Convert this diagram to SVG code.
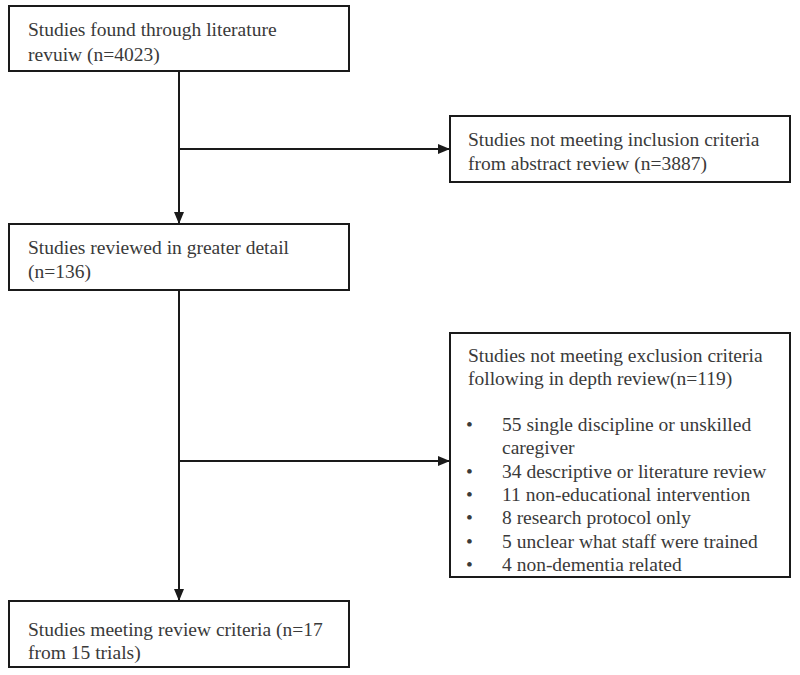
<svg xmlns="http://www.w3.org/2000/svg" width="800" height="675" viewBox="0 0 800 675">
<style>
.box{fill:#fff;stroke:#1a1a1a;stroke-width:2}
.t{font-family:"Liberation Serif","Times New Roman",serif;font-size:19.5px;fill:#3a3a3a}
.c{stroke:#1a1a1a;stroke-width:2;fill:none}
</style>
<defs>
<marker id="ah" markerWidth="12" markerHeight="10" refX="11" refY="5" orient="auto" markerUnits="userSpaceOnUse">
<path d="M0,0 L12,5 L0,10 Z" fill="#1a1a1a"/>
</marker>
</defs>
<rect width="800" height="675" fill="#fff"/>
<g id="connectors">
<line class="c" x1="179" y1="71" x2="179" y2="223" marker-end="url(#ah)"/>
<line class="c" x1="179" y1="149" x2="449" y2="149" marker-end="url(#ah)"/>
<line class="c" x1="179" y1="290" x2="179" y2="600" marker-end="url(#ah)"/>
<line class="c" x1="179" y1="461" x2="449" y2="461" marker-end="url(#ah)"/>
</g>
<g id="n1">
<rect class="box" x="9" y="6" width="340" height="65"/>
<text class="t" x="28" y="36">Studies found through literature</text>
<text class="t" x="28" y="61">revuiw (n=4023)</text>
</g>
<g id="n2">
<rect class="box" x="450" y="116" width="340" height="66"/>
<text class="t" x="468" y="146">Studies not meeting inclusion criteria</text>
<text class="t" x="468" y="170">from abstract review (n=3887)</text>
</g>
<g id="n3">
<rect class="box" x="9" y="224" width="340" height="66"/>
<text class="t" x="28" y="254">Studies reviewed in greater detail</text>
<text class="t" x="28" y="278">(n=136)</text>
</g>
<g id="n4">
<rect class="box" x="450" y="333" width="340" height="244"/>
<text class="t" x="468" y="362">Studies not meeting exclusion criteria</text>
<text class="t" x="468" y="385">following in depth review(n=119)</text>
<g class="t">
<text x="466" y="431">•</text><text x="502" y="431">55 single discipline or unskilled</text>
<text x="502" y="454">caregiver</text>
<text x="466" y="478">•</text><text x="502" y="478">34 descriptive or literature review</text>
<text x="466" y="501">•</text><text x="502" y="501">11 non-educational intervention</text>
<text x="466" y="524">•</text><text x="502" y="524">8 research protocol only</text>
<text x="466" y="548">•</text><text x="502" y="548">5 unclear what staff were trained</text>
<text x="466" y="571">•</text><text x="502" y="571">4 non-dementia related</text>
</g>
</g>
<g id="n5">
<rect class="box" x="9" y="601" width="340" height="66"/>
<text class="t" x="28" y="636">Studies meeting review criteria (n=17</text>
<text class="t" x="28" y="659">from 15 trials)</text>
</g>
</svg>
